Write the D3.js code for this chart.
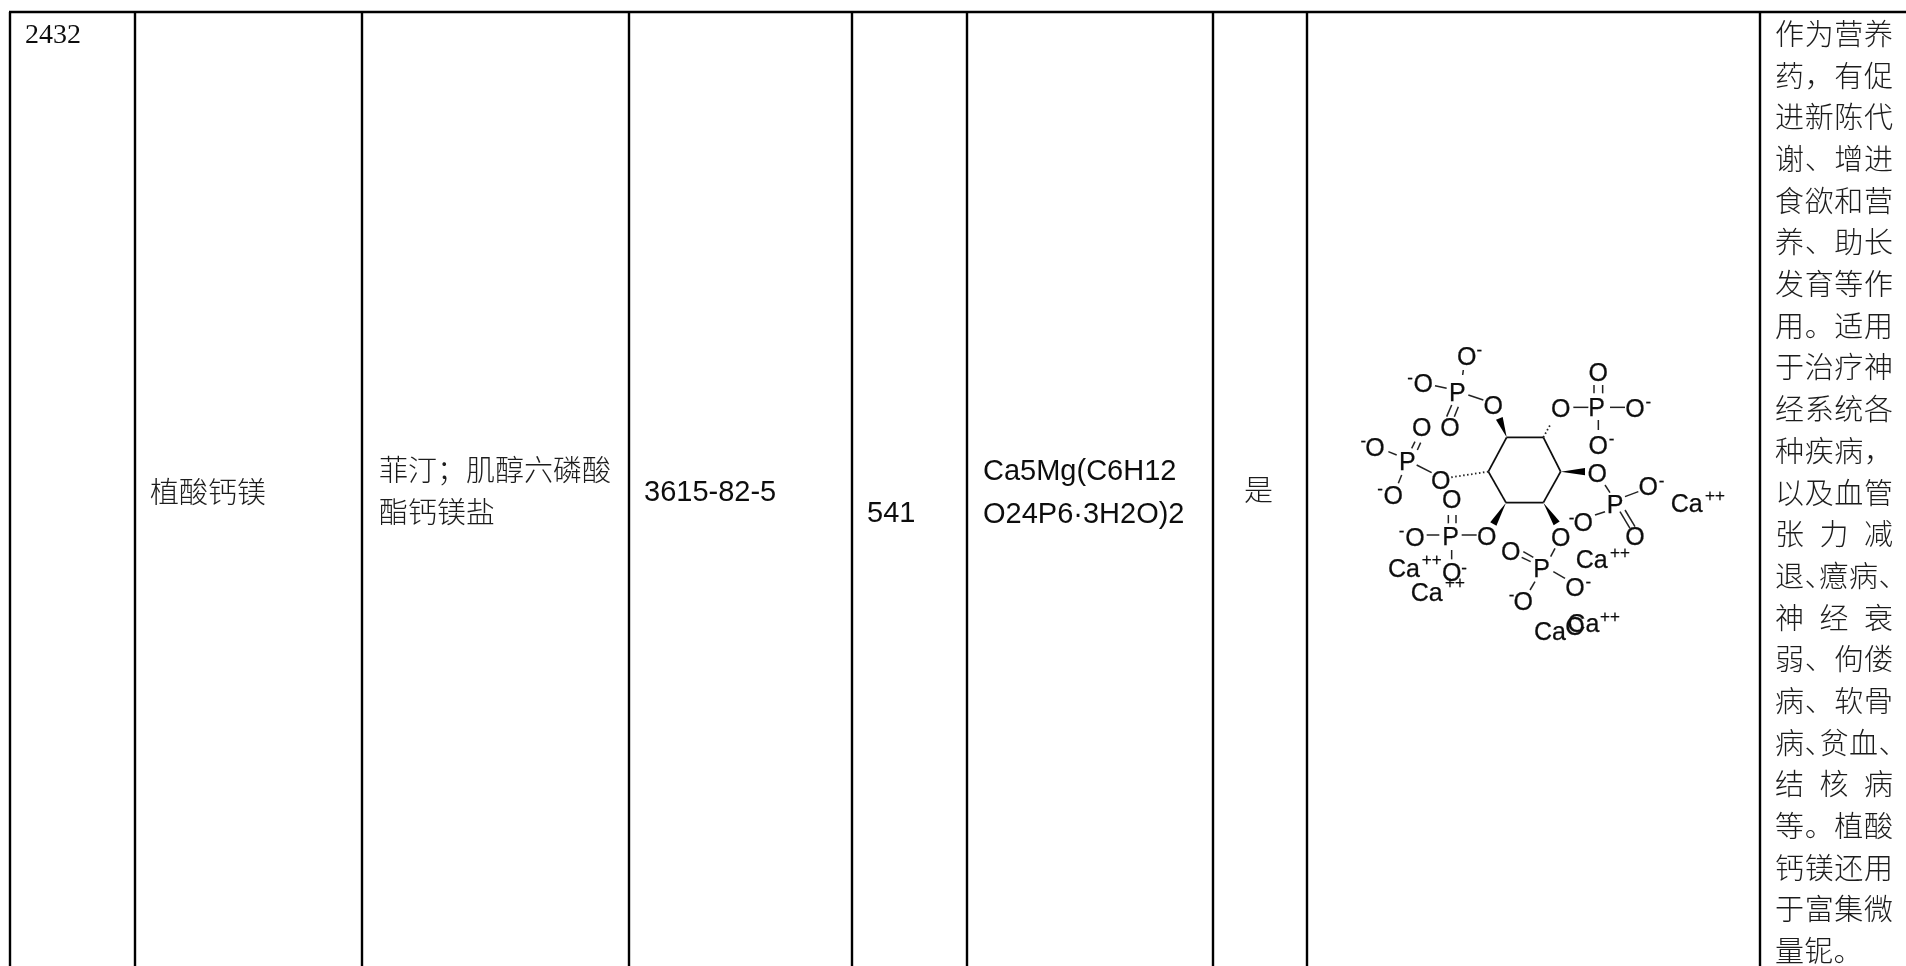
<!DOCTYPE html>
<html lang="zh">
<head>
<meta charset="utf-8">
<script src="https://cdn.jsdelivr.net/npm/d3@7/dist/d3.min.js"></script>
<style>
html,body{margin:0;padding:0;background:#fff;overflow:hidden}
svg{display:block}
.cjk{font-family:"Noto Sans CJK SC","Noto Sans CJK TC",sans-serif;font-weight:300;font-size:29px;fill:#1c1c1c}
.sans{font-family:"Liberation Sans",Arial,sans-serif;font-size:29px;fill:#111}
.serif{font-family:"Liberation Serif","Times New Roman",serif;font-size:28px;fill:#111}
.atom{font-family:"Liberation Sans",Arial,sans-serif;font-size:25px;fill:#111;stroke:#111;stroke-width:.25px;text-anchor:middle}
</style>
</head>
<body>
<script>
// ---------- table content ----------
const serialNumber = "2432";
const compoundName = "植酸钙镁";
const aliasLines = ["菲汀；肌醇六磷酸", "酯钙镁盐"];
const casNumber = "3615-82-5";
const molWeight = "541";
const formulaLines = ["Ca5Mg(C6H12", "O24P6·3H2O)2"];
const approved = "是";
const usageLines = ["作为营养","药，有促","进新陈代","谢、增进","食欲和营","养、助长","发育等作","用。适用","于治疗神","经系统各","种疾病，","以及血管","张力减","退、癔病、","神经衰","弱、佝偻","病、软骨","病、贫血、","结核病","等。植酸","钙镁还用","于富集微","量铌。"];

// ---------- structure drawing, in drawing units ----------
const atoms = [
["O",440,108],["O",310,190],["P",412,215],["O",520,255],["O",390,322],
["O",305,322],["O",165,382],["P",262,422],["O",362,480],["O",220,525],
["O",395,538],["P",392,648],["O",285,650],["O",500,648],["O",395,755],
["O",572,692],["P",665,745],["O",722,650],["O",610,842],["O",765,800],
["O",832,458],["P",885,552],["O",985,497],["O",790,605],["O",945,648],
["O",722,265],["P",830,262],["O",835,155],["O",945,265],["O",835,375],
["O",765,918]];
const ions = [["Ca",252,745],["Ca",320,815],["Ca",815,718],["Ca",1100,550],["Ca",690,932],["Ca",790,910]];
const charges = [["-",478,88],["-",270,172],["-",130,360],["-",180,505],["-",245,630],["-",432,742],["-",575,822],["-",805,782],["-",1025,480],["-",755,590],["-",985,243],["-",875,355],
["++",335,718],["++",405,785],["++",900,695],["++",1185,525],["++",870,888]];
const ringBonds = [[560,352,670,352],[670,352,722,455],[722,455,670,548],[670,548,558,548],[558,548,505,455],[505,455,560,352]];
const singleBonds = [[430,150,428,165],[345,197,380,205],[445,225,490,240],[205,395,230,405],[290,435,335,458],[245,465,235,490],[320,645,358,645],[425,645,470,645],[395,690,395,718],[692,710,705,685],[700,755,735,775],[645,785,630,810],[855,495,870,518],[915,530,955,515],[855,575,825,585],[760,262,805,262],[870,262,915,262],[835,300,835,330]];
const doubleBonds = [[395,255,380,290],[415,260,403,290],[275,385,285,365],[292,390,302,368],[385,585,385,610],[408,585,408,610],[610,695,640,712],[605,712,632,725],[900,575,930,625],[915,570,945,620],[822,195,822,220],[848,195,848,220]];
const wedgeBonds = [[560,352,538,295],[722,455,795,455],[558,548,520,612],[670,548,710,610]];
const hashBonds = [[670,352,692,312],[505,455,392,472]];

// ---------- scales ----------
const W = 1906, H = 966;
const columnEdges = [10,135,362,629,852,967,1213,1307,1760];
const tableTop = 12;
const col = d3.scaleOrdinal().domain(d3.range(columnEdges.length)).range(columnEdges);
const mx = d3.scaleLinear().domain([0,1260]).range([1320,1740]);
const my = d3.scaleLinear().domain([0,960]).range([320,640]);
const usageRow = d3.scaleLinear().domain([0,usageLines.length-1]).range([45,962]);

const svg = d3.select("body").append("svg").attr("width",W).attr("height",H).attr("viewBox",`0 0 ${W} ${H}`);
svg.append("rect").attr("width",W).attr("height",H).attr("fill","#fff");
const defs = svg.append("defs");
defs.append("filter").attr("id","soft").append("feGaussianBlur").attr("stdDeviation",0.55);
defs.append("filter").attr("id","tiny").append("feGaussianBlur").attr("stdDeviation",0.25);

// ---------- grid ----------
const grid = svg.append("g").attr("stroke","#000").attr("stroke-width",2.4);
grid.selectAll("line.v").data(columnEdges).join("line").attr("class","v")
  .attr("x1",d=>d).attr("x2",d=>d).attr("y1",tableTop).attr("y2",H);
grid.append("line").attr("x1",columnEdges[0]-1).attr("x2",W).attr("y1",tableTop).attr("y2",tableTop);

// ---------- cells ----------
const cells = svg.append("g").attr("filter","url(#tiny)");
function put(txt,cls,x,y){ return cells.append("text").attr("class",cls).attr("x",x).attr("y",y).text(txt); }
put(serialNumber,"serif",col(0)+15,43);
put(compoundName,"cjk",col(1)+15,503);
aliasLines.forEach((t,i)=>put(t,"cjk",col(2)+17,481+i*42));
put(casNumber,"sans",col(3)+15,501);
put(molWeight,"sans",col(4)+15,522);
formulaLines.forEach((t,i)=>put(t,"sans",col(5)+16,480+i*42.5));
put(approved,"cjk",col(6)+31,501);

// justified narrow column: each character placed across the fixed line measure
const em = 29, lineLeft = col(8)+15, measure = 118;
cells.selectAll("text.usage").data(usageLines).join("text")
  .attr("class","usage cjk")
  .attr("y",(d,i)=>usageRow(i))
  .attr("x",d=>{
    const ch = Array.from(d);
    const isEnd = d === "量铌。";
    const half = c => "、".includes(c) && ch.length===5;
    const widths = ch.map(c=>half(c)?em/2:em);
    const total = d3.sum(widths);
    const gap = (isEnd || total>=measure) ? (isEnd?0.3:0) : (measure-total)/(ch.length-1);
    let x = lineLeft; const out=[];
    ch.forEach((c,i)=>{out.push(x.toFixed(1)); x+=widths[i]+gap;});
    return out.join(" ");
  })
  .text(d=>d);

// ---------- structure ----------
const mol = svg.append("g").attr("filter","url(#soft)");
const bondLine = sel => sel.attr("x1",d=>mx(d[0])).attr("y1",d=>my(d[1])).attr("x2",d=>mx(d[2])).attr("y2",d=>my(d[3]));
mol.append("g").attr("stroke","#111").attr("stroke-width",1.8).selectAll("line").data(ringBonds).join("line").call(bondLine);
mol.append("g").attr("stroke","#222").attr("stroke-width",1.5).selectAll("line").data(singleBonds.concat(doubleBonds)).join("line").call(bondLine);
mol.append("g").attr("fill","#000").selectAll("path").data(wedgeBonds).join("path").attr("d",d=>{
  const x1=mx(d[0]),y1=my(d[1]),x2=mx(d[2]),y2=my(d[3]);
  const l=Math.hypot(x2-x1,y2-y1),nx=-(y2-y1)/l*3.6,ny=(x2-x1)/l*3.6;
  return d3.line()([[x1,y1],[x2+nx,y2+ny],[x2-nx,y2-ny]])+"Z";
});
mol.append("g").attr("stroke","#222").attr("stroke-width",1.8).selectAll("line").data(hashBonds).join("line")
  .attr("stroke-dasharray","1.5 2.5").call(bondLine);
const glyphBase = 9;
mol.append("g").selectAll("text").data(atoms.concat(ions)).join("text").attr("class","atom")
  .attr("x",d=>mx(d[1])).attr("y",d=>my(d[2])+glyphBase).text(d=>d[0]);
mol.append("g").selectAll("text").data(charges).join("text").attr("class","atom")
  .style("font-size","17px").attr("x",d=>mx(d[1])).attr("y",d=>my(d[2])+6).text(d=>d[0]);
</script>
</body>
</html>
